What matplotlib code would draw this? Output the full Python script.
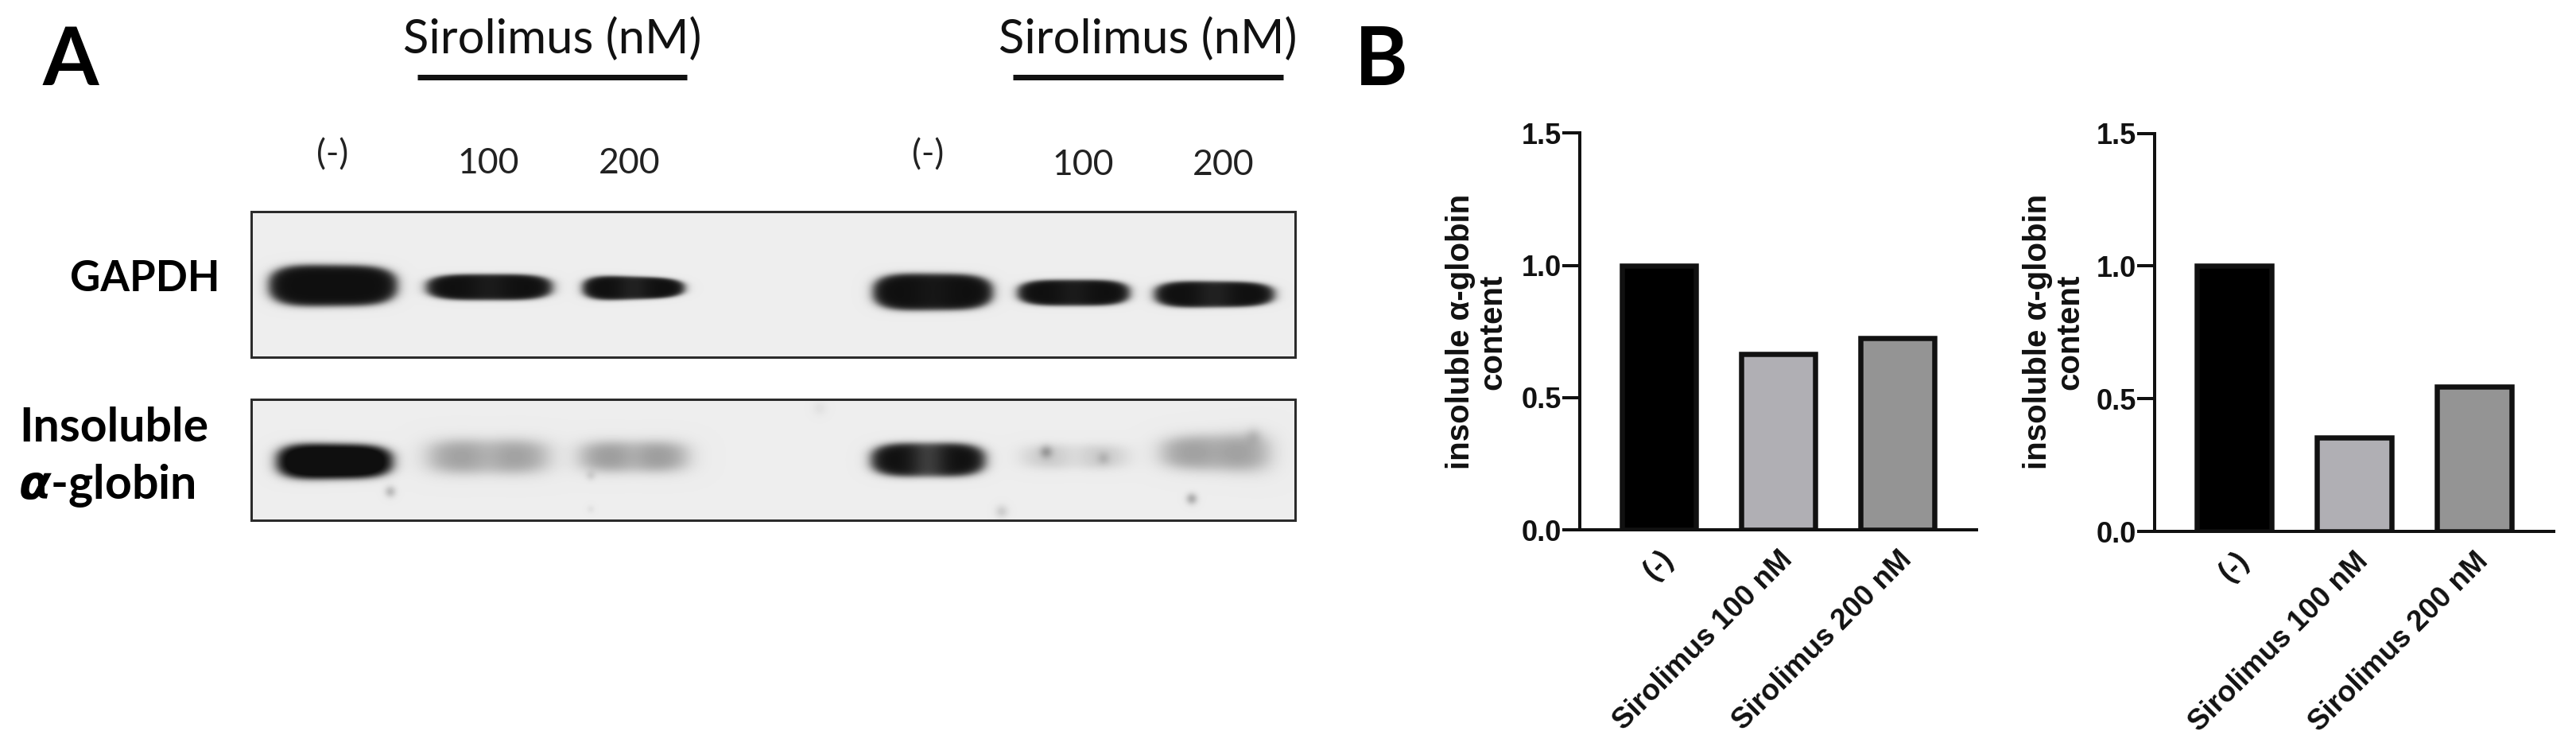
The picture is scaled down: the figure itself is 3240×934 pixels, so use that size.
import numpy as np
import matplotlib
matplotlib.use("Agg")
import matplotlib.pyplot as plt

W, H = 3240, 934

# bar chart values
bar_labels = ["(-)", "Sirolimus 100 nM", "Sirolimus 200 nM"]
left_values = [1.0, 0.665, 0.725]
right_values = [1.0, 0.355, 0.545]
bar_colors = ["#000000", "#b0afb4", "#949494"]
y_ticks = [0.0, 0.5, 1.0, 1.5]

# blot labels
lane_labels = ["(-)", "100", "200", "(-)", "100", "200"]
lane_label_x = [418, 614, 792, 1167, 1362, 1539]
lane_label_y = [195, 205, 205, 195, 208, 208]

# band density per lane, 0 = background, 1 = black
gapdh_density = [1.0, 1.0, 1.0, 1.0, 1.0, 1.0]
globin_density = [1.1, 0.36, 0.38, 1.0, 0.16, 0.36]

# lane geometry in pixels: left, right, centre, half height, taper, dip
gapdh_lanes = [
    (336, 502, 359, 27, -0.03, 0.0),
    (534, 697, 361, 17, 0.0, 0.05),
    (731, 863, 362, 15, -0.15, 0.08),
    (1096, 1251, 367, 24, -0.03, 0.03),
    (1278, 1423, 368, 17, 0.0, 0.05),
    (1450, 1605, 370, 17, -0.05, 0.08),
]
globin_lanes = [
    (346, 496, 580, 23, -0.05, 0.0),
    (540, 688, 574, 21, 0.0, 0.2),
    (731, 863, 574, 19, 0.0, 0.2),
    (1094, 1241, 578, 22, 0.0, 0.2),
    (1288, 1416, 574, 15, 0.0, 0.4),
    (1462, 1595, 569, 22, 0.1, 0.1),
]
# x, y, radius, density
globin_specks = [
    (491, 618, 7, 0.22), (743, 598, 6, 0.10), (1316, 568, 8, 0.24), (1388, 576, 8, 0.12),
    (1499, 627, 7, 0.28), (1260, 643, 8, 0.14), (1577, 547, 10, 0.10), (1031, 513, 9, 0.05),
    (743, 640, 5, 0.05),
]

plt.rcParams["font.family"] = ["Liberation Sans", "DejaVu Sans"]
plt.rcParams["mathtext.fontset"] = "dejavusans"
PX = 0.72  # points per pixel at dpi 100


def blot_image(x0, x1, y0, y1, lanes, density, specks=(), soft=0.16):
    xx, yy = np.meshgrid(np.arange(x0, x1) + 0.5, np.arange(y0, y1) + 0.5)
    ink = np.zeros_like(xx, dtype=float)
    for (l, r, c, hh, taper, dip), d in zip(lanes, density):
        mid = (l + r) / 2
        hw = (r - l) / 2
        u = (xx - mid) / hw
        local_hh = hh * (1 + taper * u)
        rr = (np.abs(u) ** 4 + np.abs((yy - c) / local_hh) ** 2.5) ** (1 / 2.5)
        # faint bands are blurrier than the saturated ones
        band_soft = soft if d > 0.5 else soft * 2.2
        band = 0.5 * (1 - np.tanh((rr - 0.95) / band_soft))
        band = band * (1 - dip * np.exp(-(u / 0.3) ** 2))
        ink = ink + d * band
    for sx, sy, sr, sd in specks:
        ink = ink + sd * np.exp(-((xx - sx) ** 2 + (yy - sy) ** 2) / sr ** 2)
    ink = np.clip(ink, 0, 1)
    return 0.93 * (1 - ink) + 0.06 * ink


def draw_blot(ax, x0, x1, y0, y1, lanes, density, specks=(), soft=0.16):
    img = blot_image(x0, x1, y0, y1, lanes, density, specks, soft)
    ax.imshow(img, cmap="gray", vmin=0, vmax=1, extent=(x0, x1, y1, y0), aspect="auto",
              interpolation="bilinear")
    ax.plot([x0, x1, x1, x0, x0], [y0, y0, y1, y1, y0], color="#2b2b2b", lw=3 * PX,
            solid_joinstyle="miter")


def draw_bars(x0, x1, top, bottom, values):
    ax = fig.add_axes([x0 / W, 1 - bottom / H, (x1 - x0) / W, (bottom - top) / H])
    ax.patch.set_alpha(0)
    pos = np.arange(len(values))
    ax.bar(pos, values, width=0.62, color=bar_colors, edgecolor="#111111", linewidth=6.5 * PX)
    ax.set_xlim(-0.663, 2.66)
    ax.set_ylim(0, 1.5)
    ax.set_yticks(y_ticks)
    ax.set_yticklabels(["%.1f" % t for t in y_ticks], fontsize=26, fontweight="bold", color="#111111")
    ax.set_xticks(pos)
    ax.set_xticklabels(bar_labels, rotation=45, ha="right", rotation_mode="anchor",
                       fontsize=26.5, fontweight="bold", color="#111111")
    ax.tick_params(axis="y", length=22 * PX, width=4 * PX, pad=1, color="#111111")
    ax.tick_params(axis="x", length=0, pad=14)
    for s in ["top", "right"]:
        ax.spines[s].set_visible(False)
    for s in ["left", "bottom"]:
        ax.spines[s].set_linewidth(4 * PX)
        ax.spines[s].set_color("#111111")
    ax.spines["bottom"].set_zorder(5)
    return ax


fig = plt.figure(figsize=(W / 100, H / 100), dpi=100)
ax = fig.add_axes([0, 0, 1, 1])

draw_blot(ax, 316, 1629, 266, 449, gapdh_lanes, gapdh_density)
draw_blot(ax, 316, 1629, 502, 654, globin_lanes, globin_density, globin_specks, soft=0.2)

ax.set_xlim(0, W)
ax.set_ylim(H, 0)
ax.axis("off")

lato = ["Lato", "DejaVu Sans"]
ax.text(89, 107, "A", family=lato, fontsize=73, fontweight="bold", ha="center", va="baseline")
ax.text(1737, 107, "B", family=lato, fontsize=73, fontweight="bold", ha="center", va="baseline")

for tx, lx0, lx1 in [(695, 525, 864), (1444, 1274, 1614)]:
    ax.text(tx, 49, "Sirolimus (nM)", family=lato, fontsize=43, ha="center", va="center", color="#111111")
    ax.plot([lx0, lx1], [97, 97], color="#111111", lw=7 * PX, solid_capstyle="butt")

for lab, lx, ly in zip(lane_labels, lane_label_x, lane_label_y):
    ax.text(lx, ly, lab, family=lato, fontsize=32, ha="center", va="center", color="#222222")

ax.text(276, 350, "GAPDH", family=lato, fontsize=38, fontweight="bold", ha="right", va="center")
ax.text(24, 538, "Insoluble", family=lato, fontsize=42.5, fontweight="bold", ha="left", va="center")
ax.text(23, 610, r"$\boldsymbol{\alpha}$-globin", family=lato, fontsize=42.5, fontweight="bold",
        ha="left", va="center")

draw_bars(1987, 2486, 167.5, 666, left_values)
draw_bars(2710, 3212, 167.5, 668, right_values)

for cx in [1857, 2583]:
    fig.text(cx / W, 1 - 417 / H, "insoluble \u03b1-globin\ncontent", rotation=90, ha="center", va="center",
             multialignment="center", fontsize=29, fontweight="bold", color="#111111", linespacing=1.1)

fig.savefig("out.png", dpi=100)
